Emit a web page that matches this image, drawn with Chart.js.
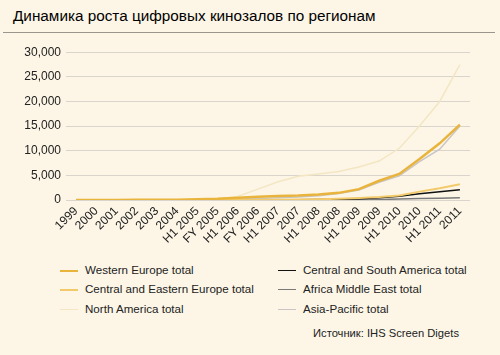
<!DOCTYPE html>
<html><head><meta charset="utf-8">
<script src="https://cdn.jsdelivr.net/npm/chart.js@4/dist/chart.umd.min.js"></script>
<style>
html,body{margin:0;padding:0;background:#fdf6e7;width:500px;height:355px;overflow:hidden;font-family:"Liberation Sans",Arial,sans-serif;}
#title{position:absolute;left:13px;top:7px;font-size:15.3px;color:#000;}
#rule{position:absolute;left:3px;top:32px;width:492px;height:1px;background:#9a968e;}
#wrap{position:absolute;left:0;top:40px;width:500px;height:218px;}
#legend{position:absolute;left:0;top:261px;width:500px;height:60px;}
.li{position:absolute;font-size:11.6px;color:#222;height:18px;line-height:18px;white-space:nowrap;}
.li span.sw{position:absolute;left:0;top:9px;width:18px;}
.li span.tx{position:absolute;left:25px;top:0;}
#src{position:absolute;left:313px;top:327px;font-size:11.2px;color:#222;}
</style></head>
<body>
<div id="title">Динамика роста цифровых кинозалов по регионам</div>
<div id="rule"></div>
<div id="wrap"><canvas id="c" width="500" height="218"></canvas></div>
<div id="legend"></div>
<div id="src">Источник: IHS Screen Digets</div>
<script>
const categories = ['1999','2000','2001','2002','2003','2004','H1 2005','FY 2005','H1 2006','FY 2006','H1 2007','2007','H1 2008','2008','H1 2009','2009','H1 2010','2010','H1 2011','2011'];
const westernEurope = [0,10,20,30,40,60,150,250,450,650,800,900,1100,1450,2200,3900,5300,8300,11500,15300];
const centralEasternEurope = [0,0,0,0,0,0,5,10,20,40,60,100,150,250,400,600,900,1700,2400,3200];
const northAmerica = [0,0,0,0,10,50,100,200,700,2200,3700,4800,5300,5800,6700,7900,10500,15000,20000,27500];
const centralSouthAmerica = [0,0,0,0,0,0,0,5,10,20,30,50,80,150,250,450,750,1250,1650,2100];
const africaMiddleEast = [0,0,0,0,0,0,0,0,5,10,15,20,30,50,80,120,180,280,380,450];
const asiaPacific = [0,0,5,10,15,20,50,100,200,300,450,600,850,1300,2000,3600,4900,7800,10300,15000];
const yTicks = [0,5000,10000,15000,20000,25000,30000];

const seriesNames = ['Western Europe total','Central and Eastern Europe total','North America total','Central and South America total','Africa Middle East total','Asia-Pacific total'];
const seriesData = [westernEurope,centralEasternEurope,northAmerica,centralSouthAmerica,africaMiddleEast,asiaPacific];
const seriesColors = ['#e9b43c','#f3ca6a','#f4e6c2','#111111','#7a7a7a','#c9c4c6'];
const seriesWidths = [2.5,2,1.5,1.5,1.5,1.5];

const datasets = seriesNames.map((n,i)=>({
  label:n, data:seriesData[i], borderColor:seriesColors[i], backgroundColor:seriesColors[i],
  borderWidth:seriesWidths[i], pointRadius:0, tension:0, fill:false
}));

new Chart(document.getElementById('c'),{
  type:'line',
  data:{labels:categories,datasets},
  options:{
    responsive:false,animation:false,
    layout:{padding:{left:0,right:30,top:8,bottom:0}},
    plugins:{legend:{display:false},tooltip:{enabled:false}},
    scales:{
      x:{offset:true,grid:{display:false,drawTicks:false},border:{display:false},
         ticks:{minRotation:45,maxRotation:45,autoSkip:false,color:'#222',padding:4,
                font:{family:'"Liberation Sans", Arial, sans-serif',size:12}},
         afterFit:s=>{s.height=58;}},
      y:{min:0,max:30000,
         afterBuildTicks:s=>{s.ticks=yTicks.map(v=>({value:v}));},
         grid:{color:'#d9d5cd',lineWidth:1,drawTicks:false},border:{display:false},
         ticks:{color:'#222',padding:5,font:{family:'"Liberation Sans", Arial, sans-serif',size:12},
                callback:v=>Number(v).toLocaleString('en-US')},
         afterFit:s=>{s.width=66;}}
    }
  }
});

const leg = document.getElementById('legend');
const pos = [[60,0],[60,19],[60,39],[278,0],[278,19],[278,39]];
seriesNames.forEach((n,i)=>{
  const d=document.createElement('div');d.className='li';
  d.style.left=pos[i][0]+'px';d.style.top=pos[i][1]+'px';
  d.innerHTML='<span class="sw" style="border-top:'+(i<2?2:1.5)+'px solid '+seriesColors[i]+'"></span><span class="tx">'+n+'</span>';
  leg.appendChild(d);
});
</script>
</body></html>
